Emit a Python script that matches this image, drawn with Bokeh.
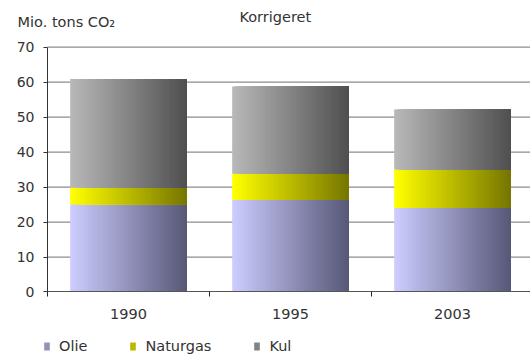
import numpy as np
from bokeh.plotting import figure
from bokeh.models import (Range1d, FixedTicker, Label, Legend, LegendItem,
                          ColumnDataSource)
from bokeh.embed import file_html
from bokeh.resources import INLINE

# CO2 emissions (mio. tons) by fuel, corrected
years = ["1990", "1995", "2003"]
olie = [25.1, 26.4, 24.1]
naturgas = [4.8, 7.4, 10.9]
kul = [31.0, 25.0, 17.2]
series_names = ["Olie", "Naturgas", "Kul"]
y_ticks = [0, 10, 20, 30, 40, 50, 60, 70]

# left/right colours of the horizontal gradient for each series
grad = {
    "Olie": ((204, 204, 255), (88, 88, 120)),
    "Naturgas": ((255, 255, 0), (118, 118, 0)),
    "Kul": ((184, 184, 184), (80, 80, 80)),
}

FONT = "DejaVu Sans"
TXT = "#333333"
BAR_W = 0.72
N_STRIPS = 60
X_END = 2.9815          # right edge of the plotting area (categories are 1 unit wide)
Y_MAX = 70

# the frame fills the whole canvas; axes sit at fixed data locations inside it
p = figure(width=530, height=360, x_range=Range1d(-0.2901, X_END),
           y_range=Range1d(-19.59, 83.36),
           output_backend="svg", toolbar_location=None,
           min_border_left=0, min_border_right=0, min_border_top=0,
           min_border_bottom=0)
p.outline_line_color = None
p.background_fill_color = "white"
p.border_fill_color = "white"
p.xgrid.visible = False
p.ygrid.visible = False

# horizontal grid lines across the plotting area only
gl = [t for t in y_ticks if t > 0]
p.segment(x0=[0] * len(gl), x1=[X_END] * len(gl), y0=gl, y1=gl,
          line_color="#8c8c8c", line_width=1.2, level="underlay")

# stacked bars; each segment gets a left-to-right gradient made of strips that
# each run to the right edge of the bar, so later strips cover earlier ones
values = {"Olie": olie, "Naturgas": naturgas, "Kul": kul}
renderers = {}
base = np.zeros(len(years))
for name in series_names:
    vals = np.array(values[name], dtype=float)
    c0, c1 = np.array(grad[name][0]), np.array(grad[name][1])
    lefts, rights, bottoms, tops, colors = [], [], [], [], []
    for i in range(len(years)):
        left = i + 0.5 - BAR_W / 2
        for k in range(N_STRIPS):
            t = k / (N_STRIPS - 1)
            c = (c0 + (c1 - c0) * t).round().astype(int)
            lefts.append(left + k * BAR_W / N_STRIPS)
            rights.append(left + BAR_W)
            bottoms.append(base[i])
            tops.append(base[i] + vals[i])
            colors.append("#%02x%02x%02x" % tuple(c))
    src = ColumnDataSource(dict(left=lefts, right=rights, bottom=bottoms, top=tops,
                                color=colors))
    renderers[name] = p.quad(left="left", right="right", bottom="bottom", top="top",
                             fill_color="color", line_color=None, source=src)
    base = base + vals

# y axis
yax = p.yaxis[0]
yax.fixed_location = 0
yax.bounds = (0, Y_MAX)
yax.ticker = FixedTicker(ticks=y_ticks, minor_ticks=[])
yax.axis_line_color = "#333333"
yax.major_tick_line_color = "#333333"
yax.major_tick_out = 4
yax.major_tick_in = 0
yax.minor_tick_line_color = None
yax.major_label_standoff = 9
yax.major_label_text_font = FONT
yax.major_label_text_font_size = "14px"
yax.major_label_text_color = TXT

# x axis: labels at category centres, ticks at category boundaries
centers = [i + 0.5 for i in range(len(years))]
xax = p.xaxis[0]
xax.fixed_location = 0
xax.bounds = (0, X_END)
xax.ticker = FixedTicker(ticks=centers, minor_ticks=list(range(len(years) + 1)))
xax.major_label_overrides = {c: y for c, y in zip(centers, years)}
xax.axis_line_color = "#555555"
xax.major_tick_line_color = None
xax.major_tick_out = 0
xax.major_tick_in = 0
xax.minor_tick_line_color = "#222222"
xax.minor_tick_out = 5
xax.minor_tick_in = 0
xax.major_label_standoff = 12
xax.major_label_text_font = FONT
xax.major_label_text_font_size = "14.5px"
xax.major_label_text_color = TXT

# titles
p.add_layout(Label(x=-0.185, y=77.07, text="Mio. tons CO\u2082", text_font=FONT,
                   text_font_size="14.5px", text_color=TXT, text_baseline="middle"))
p.add_layout(Label(x=1.185, y=78.5, text="Korrigeret", text_font=FONT,
                   text_font_size="14.5px", text_color=TXT, text_baseline="middle"))

# legend: each swatch takes the colour from the middle of its series' gradient
items = [LegendItem(label=name, renderers=[renderers[name]], index=N_STRIPS // 2)
         for name in series_names]
legend = Legend(items=items, location=(43, 6), orientation="horizontal",
                glyph_width=7, glyph_height=10, label_height=12, label_standoff=9,
                spacing=42, padding=0, margin=0, border_line_color=None,
                background_fill_alpha=0, label_text_font=FONT,
                label_text_font_size="14.5px", label_text_color=TXT)
p.add_layout(legend, "center")

open("out.html", "w").write(file_html(p, INLINE))
